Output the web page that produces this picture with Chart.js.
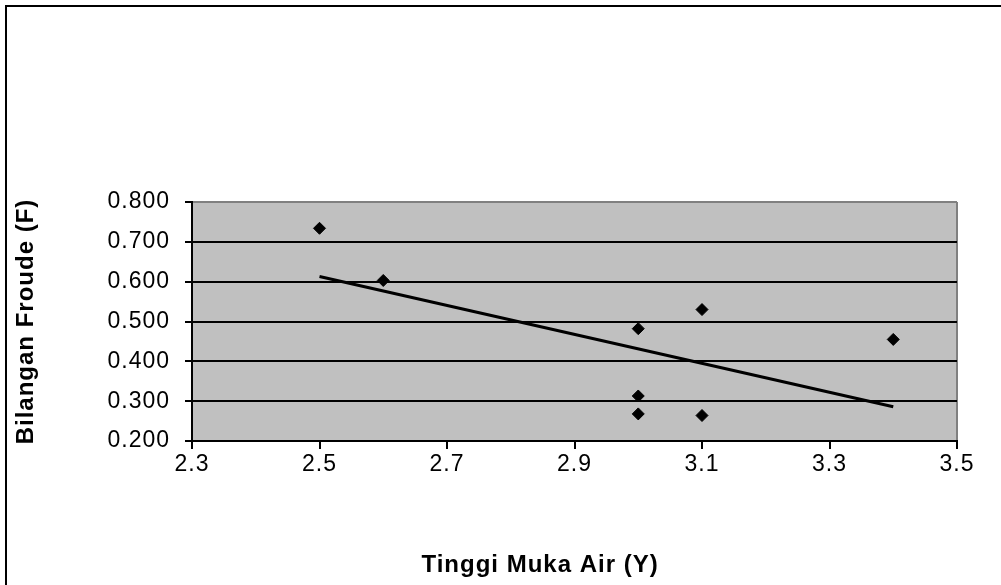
<!DOCTYPE html>
<html lang="id">
<head>
    <meta charset="UTF-8">
    <title>Bilangan Froude vs Tinggi Muka Air</title>
    <script src="https://cdn.jsdelivr.net/npm/chart.js"></script>
    <style>
        body {
            margin: 0;
            padding: 0;
            background: #fff;
        }
        .frame {
            position: absolute;
            left: 5px;
            top: 5px;
            width: 1001px;
            height: 585px;
            border-left: 2px solid #000;
            border-top: 2px solid #000;
            box-sizing: border-box;
            pointer-events: none;
        }
        canvas {
            position: absolute;
            left: 0;
            top: 0;
        }
    </style>
</head>
<body>
    <canvas id="froudeChart" width="1001" height="585"></canvas>
    <div class="frame"></div>

    <script>
        // measured points (Tinggi Muka Air vs Bilangan Froude)
        const tinggiMukaAir = [2.5, 2.6, 3.0, 3.0, 3.0, 3.1, 3.1, 3.4];
        const bilanganFroude = [0.734, 0.603, 0.482, 0.313, 0.268, 0.530, 0.264, 0.455];

        // linear trendline ends
        const trendX = [2.5, 3.4];
        const trendY = [0.613, 0.286];

        const xTicks = [2.3, 2.5, 2.7, 2.9, 3.1, 3.3, 3.5];
        const yTicks = [0.2, 0.3, 0.4, 0.5, 0.6, 0.7, 0.8];

        const xTitle = "Tinggi Muka Air (Y)";
        const yTitle = "Bilangan Froude (F)";

        const fontFamily = "'Liberation Sans', Arial, sans-serif";

        const plotBackground = {
            id: "plotBackground",
            beforeDraw(chart) {
                const { ctx, chartArea } = chart;
                ctx.letterSpacing = "1px";
                ctx.save();
                ctx.fillStyle = "#c0c0c0";
                ctx.fillRect(chartArea.left, chartArea.top,
                    chartArea.right - chartArea.left, chartArea.bottom - chartArea.top);
                ctx.restore();
            },
            afterDraw(chart) {
                // x axis title, Excel centres it a bit left of the plot
                const { ctx, chartArea } = chart;
                ctx.save();
                ctx.font = "bold 24px " + fontFamily;
                ctx.fillStyle = "#000";
                ctx.textAlign = "center";
                ctx.textBaseline = "middle";
                ctx.fillText(xTitle, chartArea.left + (chartArea.right - chartArea.left) * 0.455, 565);
                ctx.restore();
            }
        };

        const ctx = document.getElementById("froudeChart").getContext("2d");

        new Chart(ctx, {
            type: "scatter",
            data: {
                datasets: [
                    {
                        label: "Data",
                        data: tinggiMukaAir.map((x, i) => ({ x: x, y: bilanganFroude[i] })),
                        pointStyle: "rectRot",
                        pointRadius: 6,
                        pointHoverRadius: 6,
                        backgroundColor: "#000",
                        borderColor: "#000",
                        borderWidth: 1,
                        order: 1
                    },
                    {
                        type: "line",
                        label: "Linear",
                        data: trendX.map((x, i) => ({ x: x, y: trendY[i] })),
                        borderColor: "#000",
                        borderWidth: 3,
                        pointRadius: 0,
                        fill: false,
                        order: 2
                    }
                ]
            },
            options: {
                responsive: false,
                animation: false,
                devicePixelRatio: 1,
                layout: {
                    padding: { left: 0, top: 202, right: 44, bottom: 0 }
                },
                plugins: {
                    legend: { display: false },
                    tooltip: { enabled: false }
                },
                scales: {
                    x: {
                        type: "linear",
                        min: 2.3,
                        max: 3.5,
                        afterBuildTicks: scale => {
                            scale.ticks = xTicks.map(v => ({ value: v }));
                        },
                        afterFit: scale => {
                            scale.height = 144;
                        },
                        ticks: {
                            color: "#000",
                            padding: 2,
                            font: { family: fontFamily, size: 23 },
                            callback: v => v.toFixed(1)
                        },
                        grid: {
                            drawOnChartArea: true,
                            color: c => (c.tick && Math.abs(c.tick.value - 3.5) < 1e-6) ? "#808080" : "rgba(0,0,0,0)",
                            lineWidth: 2,
                            tickColor: "#000",
                            tickWidth: 2,
                            tickLength: 8
                        },
                        border: { color: "#000", width: 2 }
                    },
                    y: {
                        min: 0.2,
                        max: 0.8,
                        afterBuildTicks: scale => {
                            scale.ticks = yTicks.map(v => ({ value: v }));
                        },
                        afterFit: scale => {
                            scale.width = 192;
                        },
                        ticks: {
                            color: "#000",
                            padding: 15,
                            font: { family: fontFamily, size: 23 },
                            callback: v => v.toFixed(3)
                        },
                        grid: {
                            color: c => (c.tick && Math.abs(c.tick.value - 0.8) < 1e-6) ? "#808080" : "#000",
                            lineWidth: 2,
                            tickColor: "#000",
                            tickWidth: 2,
                            tickLength: 7
                        },
                        border: { color: "#000", width: 2 },
                        title: {
                            display: true,
                            text: yTitle,
                            color: "#000",
                            padding: { top: 12, bottom: 0 },
                            font: { family: fontFamily, size: 24, weight: "bold" }
                        }
                    }
                }
            },
            plugins: [plotBackground]
        });
    </script>
</body>
</html>
